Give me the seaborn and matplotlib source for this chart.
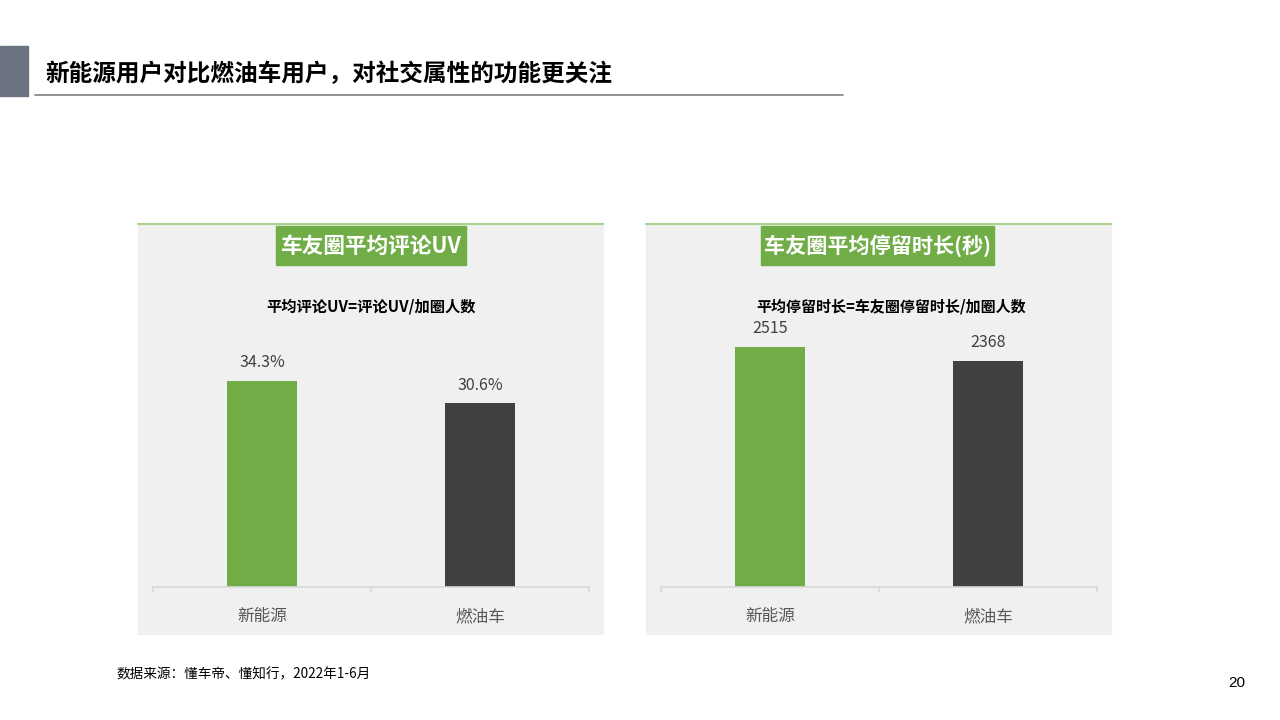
import matplotlib
matplotlib.use("Agg")
import matplotlib.pyplot as plt
import matplotlib.patches as mpatches
import pandas as pd
import seaborn as sns

W, H = 1280, 720

categories = ["新能源", "燃油车"]
comment_uv = [34.3, 30.6]
stay_seconds = [2515, 2368]
bar_colors = ["#70ad47", "#404040"]

page_title = "新能源用户对比燃油车用户，对社交属性的功能更关注"
panel_titles = ["车友圈平均评论UV", "车友圈平均停留时长(秒)"]
panel_subtitles = ["平均评论UV=评论UV/加圈人数", "平均停留时长=车友圈停留时长/加圈人数"]
source_note = "数据来源：懂车帝、懂知行，2022年1-6月"
page_no = "20"

sns.set_theme(style="white")
plt.rcParams["font.family"] = ["Noto Sans CJK SC", "DejaVu Sans"]

fig = plt.figure(figsize=(12.8, 7.2), dpi=100)
fig.patch.set_facecolor("white")


def px(x0, y0, x1, y1):
    # pixel box (top-left origin) -> figure fraction rect
    return [x0 / W, 1 - y1 / H, (x1 - x0) / W, (y1 - y0) / H]


# header
fig.patches.append(mpatches.Rectangle((0, 1 - 96 / H), 28 / W, 50 / H,
                                      transform=fig.transFigure, color="#6b7280", zorder=0))
fig.text(45 / W, 1 - 74 / H, page_title, fontsize=17, fontweight="bold",
         color="black", va="center", ha="left")
fig.add_artist(plt.Line2D([35 / W, 843 / W], [1 - 95 / H] * 2, color="#808080", lw=1.2,
                          transform=fig.transFigure))

panels = [
    dict(x0=138, x1=603, box=(276, 466), values=comment_uv, fmt="{:.1f}%", ymax=44.46,
         tsize=15.6, sub_x=371, sub_size=11),
    dict(x0=646, x1=1111, box=(761, 994), values=stay_seconds, fmt="{:.0f}", ymax=2799,
         tsize=15.2, sub_x=891, sub_size=10.8),
]

for i, p in enumerate(panels):
    x0, x1 = p["x0"], p["x1"]
    # panel background and green top rule
    fig.patches.append(mpatches.Rectangle((x0 / W, 1 - 634 / H), (x1 - x0) / W, (634 - 223) / H,
                                          transform=fig.transFigure, color="#f0f0f0", zorder=0))
    fig.add_artist(plt.Line2D([x0 / W, x1 / W], [1 - 223.5 / H] * 2, color="#a9d18e", lw=1.5,
                              transform=fig.transFigure))
    # green title box
    bx0, bx1 = p["box"]
    fig.patches.append(mpatches.Rectangle((bx0 / W, 1 - 265 / H), (bx1 - bx0) / W, 39 / H,
                                          transform=fig.transFigure, color="#70ad47", zorder=1))
    fig.text((bx0 + bx1) / 2 / W, 1 - 246 / H, panel_titles[i], fontsize=p["tsize"],
             fontweight="bold", color="white", ha="center", va="center")
    fig.text(p["sub_x"] / W, 1 - 306 / H, panel_subtitles[i],
             fontsize=p["sub_size"], fontweight="bold", color="black", ha="center", va="center")

    ax = fig.add_axes(px(x0 + 15, 320, x1 - 14, 587), zorder=2)
    ax.set_facecolor("none")
    df = pd.DataFrame({"cat": categories, "val": p["values"]})
    sns.barplot(data=df, x="cat", y="val", hue="cat", palette=bar_colors,
                width=0.317, legend=False, ax=ax, saturation=1, linewidth=0)
    ax.set_xlim(-0.5, 1.5)
    ax.set_ylim(0, p["ymax"])
    for patch, v in zip(ax.patches, p["values"]):
        ax.annotate(p["fmt"].format(v), (patch.get_x() + patch.get_width() / 2, v),
                    xytext=(0, 7), textcoords="offset points", ha="center", va="bottom",
                    fontsize=11.5, color="#404040")
    for s in ["top", "right", "left"]:
        ax.spines[s].set_visible(False)
    ax.spines["bottom"].set_color("#d9d9d9")
    ax.spines["bottom"].set_linewidth(1.2)
    ax.set_yticks([])
    ax.set_xlabel("")
    ax.set_ylabel("")
    ax.set_xticks([0, 1])
    ax.set_xticklabels(categories, fontsize=12, color="#595959")
    ax.tick_params(axis="x", length=0, pad=15)
    for xb in [-0.5, 0.5, 1.5]:
        ax.plot([xb, xb], [0, -0.02], transform=ax.get_xaxis_transform(),
                color="#d9d9d9", lw=1.2, clip_on=False)

fig.text(116 / W, 1 - 674 / H, source_note, fontsize=9.8, color="black", ha="left", va="center")
fig.text(1237 / W, 1 - 683 / H, page_no, fontsize=11, color="black", ha="center", va="center",
         family=["Liberation Sans", "DejaVu Sans"])

fig.savefig("out.png", dpi=100, facecolor="white")
